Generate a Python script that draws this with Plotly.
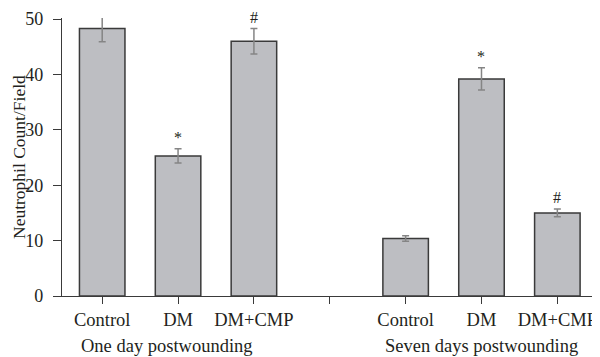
import plotly.graph_objects as go

conditions = ["Control", "DM", "DM+CMP"]
groups = ["One day postwounding", "Seven days postwounding"]
means_day1 = [48.3, 25.3, 46.0]
err_day1 = [2.4, 1.3, 2.3]
means_day7 = [10.4, 39.2, 15.0]
err_day7 = [0.5, 2.0, 0.7]
marks_day1 = ["", "*", "#"]
marks_day7 = ["", "*", "#"]
y_ticks = [0, 10, 20, 30, 40, 50]

# Build positions: 3 bars, one empty slot, 3 bars
x_pos = list(range(7))
means = means_day1 + [None] + means_day7
errs = err_day1 + [None] + err_day7
marks = marks_day1 + [""] + marks_day7
tick_text = conditions + [""] + conditions

FONT = "Liberation Serif"
TXT = "#231f20"
FS = 18.5

fig = go.Figure()
fig.add_trace(go.Bar(
    x=x_pos, y=means, width=0.6,
    marker=dict(color="#bdbec2", line=dict(color="#3a3a3a", width=1.5)),
    error_y=dict(type="data", array=errs, visible=True, color="#858585",
                 thickness=1.5, width=3.5),
    cliponaxis=False,
    showlegend=False,
))

annotations = []
for xi, m, e, mk in zip(x_pos, means, errs, marks):
    if mk and m is not None:
        annotations.append(dict(x=xi, y=m + e, xref="x", yref="y", text=mk,
                                showarrow=False, yanchor="bottom", yshift=1,
                                font=dict(family=FONT, size=16, color=TXT)))
annotations.append(dict(x=1, y=0, xref="x", yref="paper", text=groups[0],
                        showarrow=False, yanchor="top", yshift=-38, xshift=-11,
                        font=dict(family=FONT, size=FS, color=TXT)))
annotations.append(dict(x=5, y=0, xref="x", yref="paper", text=groups[1],
                        showarrow=False, yanchor="top", yshift=-38,
                        font=dict(family=FONT, size=FS, color=TXT)))
annotations.append(dict(x=0, y=0.5, xref="paper", yref="paper", text="Neutrophil Count/Field",
                        showarrow=False, textangle=-90, xanchor="center", yanchor="middle",
                        xshift=-43, font=dict(family=FONT, size=17.5, color=TXT)))

# page body adds an 8px offset, so the figure is 8px smaller
fig.update_layout(
    width=592, height=349,
    margin=dict(l=54, r=7, t=10, b=61),
    plot_bgcolor="white", paper_bgcolor="white",
    font=dict(family=FONT, size=FS, color=TXT),
    annotations=annotations,
)
fig.update_xaxes(
    range=[-0.53, 6.47], tickmode="array", tickvals=x_pos, ticktext=tick_text,
    showline=True, linecolor="#3a3a3a", linewidth=1.2,
    ticks="outside", ticklen=7, tickcolor="#3a3a3a", tickwidth=1.2,
    showgrid=False, zeroline=False, automargin=False, ticklabeloverflow="allow",
    tickfont=dict(family=FONT, size=FS, color=TXT),
)
fig.update_yaxes(
    range=[0, 50.2], tickmode="array", tickvals=y_ticks,
    showline=True, linecolor="#3a3a3a", linewidth=1.2,
    ticks="outside", ticklen=8, tickcolor="#3a3a3a", tickwidth=1.2,
    showgrid=False, zeroline=False, automargin=False, ticklabeloverflow="allow",
    tickfont=dict(family=FONT, size=18, color=TXT),
    ticklabelstandoff=6,
)

fig.write_html("out.html")
